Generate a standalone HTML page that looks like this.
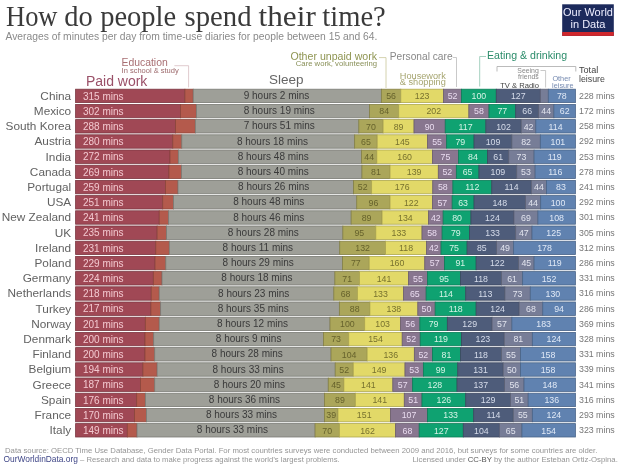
<!DOCTYPE html>
<html><head><meta charset="utf-8">
<style>
html,body{margin:0;padding:0;background:#fff;width:620px;height:466px;overflow:hidden;}
body{position:relative;font-family:"Liberation Sans",sans-serif;}
svg{position:absolute;left:0;top:0;will-change:transform;}
.c{font-size:11.8px;fill:#626262;}
.p{font-size:10px;fill:#f3c9d0;}
.s{font-size:10px;fill:#3a3a3a;}
.t{font-size:8.8px;fill:#777;}
.n{font-size:8.8px;}
</style></head><body>
<svg width="620" height="466" viewBox="0 0 620 466" font-family="Liberation Sans, sans-serif">
<g font-family="Liberation Serif, serif" font-size="29" fill="#3a3a3a"><text x="6.0" y="25.5" textLength="51.5" lengthAdjust="spacingAndGlyphs">How</text><text x="64.3" y="25.5" textLength="28.5" lengthAdjust="spacingAndGlyphs">do</text><text x="100.2" y="25.5" textLength="76" lengthAdjust="spacingAndGlyphs">people</text><text x="184.5" y="25.5" textLength="67" lengthAdjust="spacingAndGlyphs">spend</text><text x="258.6" y="25.5" textLength="57.2" lengthAdjust="spacingAndGlyphs">their</text><text x="322.3" y="25.5" textLength="63.5" lengthAdjust="spacingAndGlyphs">time?</text></g>
<text x="5.5" y="40" font-size="10.3" fill="#8a8a8a">Averages of minutes per day from time-use diaries for people between 15 and 64.</text>
<rect x="562.2" y="4.3" width="51.6" height="31.6" fill="#1c2a5c"/>
<rect x="562.2" y="32" width="51.6" height="3.9" fill="#d0272c"/>
<text x="588" y="15.8" font-size="11" fill="#eef" text-anchor="middle">Our World</text>
<text x="588" y="27.7" font-size="11" fill="#eef" text-anchor="middle">in Data</text>

<!-- headers -->
<text x="121.5" y="65.5" font-size="10.4" fill="#a86e72">Education</text>
<text x="121.6" y="72.8" font-size="7.5" fill="#9c686b">In school &amp; study</text>
<polyline points="174.4,65.7 188.6,65.7 188.6,87.4" fill="none" stroke="#d2b4ba" stroke-width="0.7"/>
<text x="85.9" y="85.8" font-size="14" fill="#9a5068">Paid work</text>
<text x="269" y="84.3" font-size="13.5" fill="#666">Sleep</text>
<text x="377" y="59.9" font-size="10.6" fill="#8f9552" text-anchor="end">Other unpaid work</text>
<text x="377" y="66.3" font-size="7.7" fill="#899058" text-anchor="end">Care work, volunteering</text>
<polyline points="379,57.6 386,57.6 386,88" fill="none" stroke="#c9c79a" stroke-width="0.8"/>
<text x="389.7" y="59.5" font-size="10.2" fill="#888">Personal care</text>
<polyline points="452.8,57.5 456.5,57.5 456.5,87" fill="none" stroke="#bbb" stroke-width="0.8"/>
<text x="399.8" y="78.7" font-size="9.2" fill="#a6a570">Housework</text>
<text x="399.8" y="85.3" font-size="9.2" fill="#a6a570">&amp; shopping</text>
<text x="487" y="58.9" font-size="10.6" fill="#2b8c6a">Eating &amp; drinking</text>
<polyline points="486,56.5 479.7,56.5 479.7,86.5" fill="none" stroke="#8cc4ae" stroke-width="0.8"/>
<polyline points="497,71.5 497,66.5 575.8,66.5 575.8,71.5" fill="none" stroke="#aaa" stroke-width="0.8"/>
<text x="538.8" y="72.6" font-size="6.9" fill="#888" text-anchor="end">Seeing</text>
<text x="538.8" y="78.9" font-size="6.9" fill="#888" text-anchor="end">friends</text>
<polyline points="540.5,70.5 545.6,70.5 545.6,87.5" fill="none" stroke="#bbb" stroke-width="0.8"/>
<text x="500.2" y="87.6" font-size="7.6" fill="#444">TV &amp; Radio</text>
<text x="552.4" y="80.5" font-size="7.3" fill="#7489b0">Other</text>
<text x="552.1" y="87.7" font-size="7.3" fill="#7489b0">leisure</text>
<text x="579" y="72.9" font-size="9.1" fill="#444">Total</text>
<text x="579" y="81.6" font-size="8.8" fill="#444">leisure</text>
<!-- footer -->
<text x="5.0" y="452.8" font-size="7.74" fill="#959595">Data source: OECD Time Use Database, Gender Data Portal. For most countries surveys were conducted between 2009 and 2016, but surveys for some countries are older.</text>
<text x="3.6" y="461.8" font-size="7.7" fill="#959595"><tspan fill="#3f4687" font-size="8.4">OurWorldinData.org</tspan> – Research and data to make progress against the world’s largest problems.</text>
<text x="617.8" y="461.8" font-size="7.78" fill="#959595" text-anchor="end">Licensed under <tspan fill="#555">CC-BY</tspan> by the author Esteban Ortiz-Ospina.</text>
<rect x="75.60" y="89.20" width="109.33" height="13.4" fill="#a04855" stroke="#7c3842" stroke-width="0.8"/>
<rect x="184.93" y="89.20" width="8.33" height="13.4" fill="#b45a4c" stroke="#8c463b" stroke-width="0.8"/>
<rect x="193.26" y="89.20" width="188.12" height="13.4" fill="#9e9f98" stroke="#7b7c76" stroke-width="0.8"/>
<rect x="381.38" y="89.20" width="19.44" height="13.4" fill="#aba65a" stroke="#858146" stroke-width="0.8"/>
<text x="391.10" y="99.10" class="n" fill="#66622c" text-anchor="middle">56</text>
<rect x="400.82" y="89.20" width="42.69" height="13.4" fill="#e2d968" stroke="#b0a951" stroke-width="0.8"/>
<text x="422.16" y="99.10" class="n" fill="#77712e" text-anchor="middle">123</text>
<rect x="443.51" y="89.20" width="18.05" height="13.4" fill="#88768f" stroke="#6a5c6f" stroke-width="0.8"/>
<text x="452.53" y="99.10" class="n" fill="#eadcf0" text-anchor="middle">52</text>
<rect x="461.56" y="89.20" width="34.71" height="13.4" fill="#0fa271" stroke="#0b7e58" stroke-width="0.8"/>
<text x="478.91" y="99.10" class="n" fill="#d5f3e6" text-anchor="middle">100</text>
<rect x="496.27" y="89.20" width="44.08" height="13.4" fill="#4e5c7a" stroke="#3c475f" stroke-width="0.8"/>
<text x="518.30" y="99.10" class="n" fill="#d6dcea" text-anchor="middle">127</text>
<rect x="540.34" y="89.20" width="7.98" height="13.4" fill="#777d97" stroke="#5c6175" stroke-width="0.8"/>
<rect x="548.33" y="89.20" width="27.07" height="13.4" fill="#6082b0" stroke="#4a6589" stroke-width="0.8"/>
<text x="561.86" y="99.10" class="n" fill="#e0e9f6" text-anchor="middle">78</text>
<text x="71.2" y="99.70" class="c" text-anchor="end">China</text>
<text x="83" y="99.60" class="p">315 mins</text>
<text x="243.7" y="98.90" class="s">9 hours 2 mins</text>
<text x="579" y="98.70" class="t">228 mins</text>
<rect x="75.60" y="104.40" width="104.82" height="13.4" fill="#a04855" stroke="#7c3842" stroke-width="0.8"/>
<rect x="180.42" y="104.40" width="15.97" height="13.4" fill="#b45a4c" stroke="#8c463b" stroke-width="0.8"/>
<rect x="196.39" y="104.40" width="173.19" height="13.4" fill="#9e9f98" stroke="#7b7c76" stroke-width="0.8"/>
<rect x="369.58" y="104.40" width="29.16" height="13.4" fill="#aba65a" stroke="#858146" stroke-width="0.8"/>
<text x="384.16" y="114.30" class="n" fill="#66622c" text-anchor="middle">84</text>
<rect x="398.73" y="104.40" width="70.11" height="13.4" fill="#e2d968" stroke="#b0a951" stroke-width="0.8"/>
<text x="433.79" y="114.30" class="n" fill="#77712e" text-anchor="middle">202</text>
<rect x="468.85" y="104.40" width="20.13" height="13.4" fill="#88768f" stroke="#6a5c6f" stroke-width="0.8"/>
<text x="478.91" y="114.30" class="n" fill="#eadcf0" text-anchor="middle">58</text>
<rect x="488.98" y="104.40" width="26.73" height="13.4" fill="#0fa271" stroke="#0b7e58" stroke-width="0.8"/>
<text x="502.34" y="114.30" class="n" fill="#d5f3e6" text-anchor="middle">77</text>
<rect x="515.70" y="104.40" width="22.91" height="13.4" fill="#4e5c7a" stroke="#3c475f" stroke-width="0.8"/>
<text x="527.16" y="114.30" class="n" fill="#d6dcea" text-anchor="middle">66</text>
<rect x="538.61" y="104.40" width="15.27" height="13.4" fill="#777d97" stroke="#5c6175" stroke-width="0.8"/>
<text x="546.25" y="114.30" class="n" fill="#e2e4ee" text-anchor="middle">44</text>
<rect x="553.88" y="104.40" width="21.52" height="13.4" fill="#6082b0" stroke="#4a6589" stroke-width="0.8"/>
<text x="564.64" y="114.30" class="n" fill="#e0e9f6" text-anchor="middle">62</text>
<text x="71.2" y="114.90" class="c" text-anchor="end">Mexico</text>
<text x="83" y="114.80" class="p">302 mins</text>
<text x="243.7" y="114.10" class="s">8 hours 19 mins</text>
<text x="579" y="113.90" class="t">172 mins</text>
<rect x="75.60" y="119.60" width="99.96" height="13.4" fill="#a04855" stroke="#7c3842" stroke-width="0.8"/>
<rect x="175.56" y="119.60" width="19.78" height="13.4" fill="#b45a4c" stroke="#8c463b" stroke-width="0.8"/>
<rect x="195.34" y="119.60" width="163.48" height="13.4" fill="#9e9f98" stroke="#7b7c76" stroke-width="0.8"/>
<rect x="358.82" y="119.60" width="24.30" height="13.4" fill="#aba65a" stroke="#858146" stroke-width="0.8"/>
<text x="370.97" y="129.50" class="n" fill="#66622c" text-anchor="middle">70</text>
<rect x="383.12" y="119.60" width="30.89" height="13.4" fill="#e2d968" stroke="#b0a951" stroke-width="0.8"/>
<text x="398.56" y="129.50" class="n" fill="#77712e" text-anchor="middle">89</text>
<rect x="414.01" y="119.60" width="31.24" height="13.4" fill="#88768f" stroke="#6a5c6f" stroke-width="0.8"/>
<text x="429.63" y="129.50" class="n" fill="#eadcf0" text-anchor="middle">90</text>
<rect x="445.24" y="119.60" width="40.61" height="13.4" fill="#0fa271" stroke="#0b7e58" stroke-width="0.8"/>
<text x="465.55" y="129.50" class="n" fill="#d5f3e6" text-anchor="middle">117</text>
<rect x="485.85" y="119.60" width="35.40" height="13.4" fill="#4e5c7a" stroke="#3c475f" stroke-width="0.8"/>
<text x="503.55" y="129.50" class="n" fill="#d6dcea" text-anchor="middle">102</text>
<rect x="521.26" y="119.60" width="14.58" height="13.4" fill="#777d97" stroke="#5c6175" stroke-width="0.8"/>
<text x="528.54" y="129.50" class="n" fill="#e2e4ee" text-anchor="middle">42</text>
<rect x="535.83" y="119.60" width="39.57" height="13.4" fill="#6082b0" stroke="#4a6589" stroke-width="0.8"/>
<text x="555.62" y="129.50" class="n" fill="#e0e9f6" text-anchor="middle">114</text>
<text x="71.2" y="130.10" class="c" text-anchor="end">South Korea</text>
<text x="83" y="130.00" class="p">288 mins</text>
<text x="243.7" y="129.30" class="s">7 hours 51 mins</text>
<text x="579" y="129.10" class="t">258 mins</text>
<rect x="75.60" y="134.80" width="97.18" height="13.4" fill="#a04855" stroke="#7c3842" stroke-width="0.8"/>
<rect x="172.78" y="134.80" width="9.02" height="13.4" fill="#b45a4c" stroke="#8c463b" stroke-width="0.8"/>
<rect x="181.81" y="134.80" width="172.85" height="13.4" fill="#9e9f98" stroke="#7b7c76" stroke-width="0.8"/>
<rect x="354.65" y="134.80" width="22.56" height="13.4" fill="#aba65a" stroke="#858146" stroke-width="0.8"/>
<text x="365.94" y="144.70" class="n" fill="#66622c" text-anchor="middle">65</text>
<rect x="377.22" y="134.80" width="50.33" height="13.4" fill="#e2d968" stroke="#b0a951" stroke-width="0.8"/>
<text x="402.38" y="144.70" class="n" fill="#77712e" text-anchor="middle">145</text>
<rect x="427.54" y="134.80" width="19.09" height="13.4" fill="#88768f" stroke="#6a5c6f" stroke-width="0.8"/>
<text x="437.09" y="144.70" class="n" fill="#eadcf0" text-anchor="middle">55</text>
<rect x="446.63" y="134.80" width="27.42" height="13.4" fill="#0fa271" stroke="#0b7e58" stroke-width="0.8"/>
<text x="460.34" y="144.70" class="n" fill="#d5f3e6" text-anchor="middle">79</text>
<rect x="474.05" y="134.80" width="37.83" height="13.4" fill="#4e5c7a" stroke="#3c475f" stroke-width="0.8"/>
<text x="492.97" y="144.70" class="n" fill="#d6dcea" text-anchor="middle">109</text>
<rect x="511.88" y="134.80" width="28.46" height="13.4" fill="#777d97" stroke="#5c6175" stroke-width="0.8"/>
<text x="526.11" y="144.70" class="n" fill="#e2e4ee" text-anchor="middle">82</text>
<rect x="540.34" y="134.80" width="35.06" height="13.4" fill="#6082b0" stroke="#4a6589" stroke-width="0.8"/>
<text x="557.87" y="144.70" class="n" fill="#e0e9f6" text-anchor="middle">101</text>
<text x="71.2" y="145.30" class="c" text-anchor="end">Austria</text>
<text x="83" y="145.20" class="p">280 mins</text>
<text x="236.9" y="144.50" class="s">8 hours 18 mins</text>
<text x="579" y="144.30" class="t">292 mins</text>
<rect x="75.60" y="150.00" width="94.41" height="13.4" fill="#a04855" stroke="#7c3842" stroke-width="0.8"/>
<rect x="170.01" y="150.00" width="8.33" height="13.4" fill="#b45a4c" stroke="#8c463b" stroke-width="0.8"/>
<rect x="178.34" y="150.00" width="183.26" height="13.4" fill="#9e9f98" stroke="#7b7c76" stroke-width="0.8"/>
<rect x="361.60" y="150.00" width="15.27" height="13.4" fill="#aba65a" stroke="#858146" stroke-width="0.8"/>
<text x="369.23" y="159.90" class="n" fill="#66622c" text-anchor="middle">44</text>
<rect x="376.87" y="150.00" width="55.53" height="13.4" fill="#e2d968" stroke="#b0a951" stroke-width="0.8"/>
<text x="404.63" y="159.90" class="n" fill="#77712e" text-anchor="middle">160</text>
<rect x="432.40" y="150.00" width="26.03" height="13.4" fill="#88768f" stroke="#6a5c6f" stroke-width="0.8"/>
<text x="445.42" y="159.90" class="n" fill="#eadcf0" text-anchor="middle">75</text>
<rect x="458.43" y="150.00" width="29.16" height="13.4" fill="#0fa271" stroke="#0b7e58" stroke-width="0.8"/>
<text x="473.01" y="159.90" class="n" fill="#d5f3e6" text-anchor="middle">84</text>
<rect x="487.59" y="150.00" width="21.17" height="13.4" fill="#4e5c7a" stroke="#3c475f" stroke-width="0.8"/>
<text x="498.17" y="159.90" class="n" fill="#d6dcea" text-anchor="middle">61</text>
<rect x="508.76" y="150.00" width="25.34" height="13.4" fill="#777d97" stroke="#5c6175" stroke-width="0.8"/>
<text x="521.43" y="159.90" class="n" fill="#e2e4ee" text-anchor="middle">73</text>
<rect x="534.10" y="150.00" width="41.30" height="13.4" fill="#6082b0" stroke="#4a6589" stroke-width="0.8"/>
<text x="554.75" y="159.90" class="n" fill="#e0e9f6" text-anchor="middle">119</text>
<text x="71.2" y="160.50" class="c" text-anchor="end">India</text>
<text x="83" y="160.40" class="p">272 mins</text>
<text x="237.7" y="159.70" class="s">8 hours 48 mins</text>
<text x="579" y="159.50" class="t">253 mins</text>
<rect x="75.60" y="165.20" width="93.37" height="13.4" fill="#a04855" stroke="#7c3842" stroke-width="0.8"/>
<rect x="168.97" y="165.20" width="12.50" height="13.4" fill="#b45a4c" stroke="#8c463b" stroke-width="0.8"/>
<rect x="181.46" y="165.20" width="180.48" height="13.4" fill="#9e9f98" stroke="#7b7c76" stroke-width="0.8"/>
<rect x="361.94" y="165.20" width="28.11" height="13.4" fill="#aba65a" stroke="#858146" stroke-width="0.8"/>
<text x="376.00" y="175.10" class="n" fill="#66622c" text-anchor="middle">81</text>
<rect x="390.06" y="165.20" width="48.24" height="13.4" fill="#e2d968" stroke="#b0a951" stroke-width="0.8"/>
<text x="414.18" y="175.10" class="n" fill="#77712e" text-anchor="middle">139</text>
<rect x="438.30" y="165.20" width="18.05" height="13.4" fill="#88768f" stroke="#6a5c6f" stroke-width="0.8"/>
<text x="447.33" y="175.10" class="n" fill="#eadcf0" text-anchor="middle">52</text>
<rect x="456.35" y="165.20" width="22.56" height="13.4" fill="#0fa271" stroke="#0b7e58" stroke-width="0.8"/>
<text x="467.63" y="175.10" class="n" fill="#d5f3e6" text-anchor="middle">65</text>
<rect x="478.91" y="165.20" width="37.83" height="13.4" fill="#4e5c7a" stroke="#3c475f" stroke-width="0.8"/>
<text x="497.83" y="175.10" class="n" fill="#d6dcea" text-anchor="middle">109</text>
<rect x="516.74" y="165.20" width="18.40" height="13.4" fill="#777d97" stroke="#5c6175" stroke-width="0.8"/>
<text x="525.94" y="175.10" class="n" fill="#e2e4ee" text-anchor="middle">53</text>
<rect x="535.14" y="165.20" width="40.26" height="13.4" fill="#6082b0" stroke="#4a6589" stroke-width="0.8"/>
<text x="555.27" y="175.10" class="n" fill="#e0e9f6" text-anchor="middle">116</text>
<text x="71.2" y="175.70" class="c" text-anchor="end">Canada</text>
<text x="83" y="175.60" class="p">269 mins</text>
<text x="237.7" y="174.90" class="s">8 hours 40 mins</text>
<text x="579" y="174.70" class="t">278 mins</text>
<rect x="75.60" y="180.40" width="89.89" height="13.4" fill="#a04855" stroke="#7c3842" stroke-width="0.8"/>
<rect x="165.49" y="180.40" width="12.50" height="13.4" fill="#b45a4c" stroke="#8c463b" stroke-width="0.8"/>
<rect x="177.99" y="180.40" width="175.62" height="13.4" fill="#9e9f98" stroke="#7b7c76" stroke-width="0.8"/>
<rect x="353.61" y="180.40" width="18.05" height="13.4" fill="#aba65a" stroke="#858146" stroke-width="0.8"/>
<text x="362.64" y="190.30" class="n" fill="#66622c" text-anchor="middle">52</text>
<rect x="371.66" y="180.40" width="61.09" height="13.4" fill="#e2d968" stroke="#b0a951" stroke-width="0.8"/>
<text x="402.21" y="190.30" class="n" fill="#77712e" text-anchor="middle">176</text>
<rect x="432.75" y="180.40" width="20.13" height="13.4" fill="#88768f" stroke="#6a5c6f" stroke-width="0.8"/>
<text x="442.81" y="190.30" class="n" fill="#eadcf0" text-anchor="middle">58</text>
<rect x="452.88" y="180.40" width="38.87" height="13.4" fill="#0fa271" stroke="#0b7e58" stroke-width="0.8"/>
<text x="472.32" y="190.30" class="n" fill="#d5f3e6" text-anchor="middle">112</text>
<rect x="491.75" y="180.40" width="39.57" height="13.4" fill="#4e5c7a" stroke="#3c475f" stroke-width="0.8"/>
<text x="511.54" y="190.30" class="n" fill="#d6dcea" text-anchor="middle">114</text>
<rect x="531.32" y="180.40" width="15.27" height="13.4" fill="#777d97" stroke="#5c6175" stroke-width="0.8"/>
<text x="538.96" y="190.30" class="n" fill="#e2e4ee" text-anchor="middle">44</text>
<rect x="546.59" y="180.40" width="28.81" height="13.4" fill="#6082b0" stroke="#4a6589" stroke-width="0.8"/>
<text x="561.00" y="190.30" class="n" fill="#e0e9f6" text-anchor="middle">83</text>
<text x="71.2" y="190.90" class="c" text-anchor="end">Portugal</text>
<text x="83" y="190.80" class="p">259 mins</text>
<text x="238.1" y="190.10" class="s">8 hours 26 mins</text>
<text x="579" y="189.90" class="t">241 mins</text>
<rect x="75.60" y="195.60" width="87.12" height="13.4" fill="#a04855" stroke="#7c3842" stroke-width="0.8"/>
<rect x="162.72" y="195.60" width="10.76" height="13.4" fill="#b45a4c" stroke="#8c463b" stroke-width="0.8"/>
<rect x="173.48" y="195.60" width="183.26" height="13.4" fill="#9e9f98" stroke="#7b7c76" stroke-width="0.8"/>
<rect x="356.74" y="195.60" width="33.32" height="13.4" fill="#aba65a" stroke="#858146" stroke-width="0.8"/>
<text x="373.40" y="205.50" class="n" fill="#66622c" text-anchor="middle">96</text>
<rect x="390.06" y="195.60" width="42.34" height="13.4" fill="#e2d968" stroke="#b0a951" stroke-width="0.8"/>
<text x="411.23" y="205.50" class="n" fill="#77712e" text-anchor="middle">122</text>
<rect x="432.40" y="195.60" width="19.78" height="13.4" fill="#88768f" stroke="#6a5c6f" stroke-width="0.8"/>
<text x="442.29" y="205.50" class="n" fill="#eadcf0" text-anchor="middle">57</text>
<rect x="452.19" y="195.60" width="21.87" height="13.4" fill="#0fa271" stroke="#0b7e58" stroke-width="0.8"/>
<text x="463.12" y="205.50" class="n" fill="#d5f3e6" text-anchor="middle">63</text>
<rect x="474.05" y="195.60" width="51.37" height="13.4" fill="#4e5c7a" stroke="#3c475f" stroke-width="0.8"/>
<text x="499.74" y="205.50" class="n" fill="#d6dcea" text-anchor="middle">148</text>
<rect x="525.42" y="195.60" width="15.27" height="13.4" fill="#777d97" stroke="#5c6175" stroke-width="0.8"/>
<text x="533.06" y="205.50" class="n" fill="#e2e4ee" text-anchor="middle">44</text>
<rect x="540.69" y="195.60" width="34.71" height="13.4" fill="#6082b0" stroke="#4a6589" stroke-width="0.8"/>
<text x="558.05" y="205.50" class="n" fill="#e0e9f6" text-anchor="middle">100</text>
<text x="71.2" y="206.10" class="c" text-anchor="end">USA</text>
<text x="83" y="206.00" class="p">251 mins</text>
<text x="233.2" y="205.30" class="s">8 hours 48 mins</text>
<text x="579" y="205.10" class="t">292 mins</text>
<rect x="75.60" y="210.80" width="83.65" height="13.4" fill="#a04855" stroke="#7c3842" stroke-width="0.8"/>
<rect x="159.25" y="210.80" width="9.37" height="13.4" fill="#b45a4c" stroke="#8c463b" stroke-width="0.8"/>
<rect x="168.62" y="210.80" width="182.57" height="13.4" fill="#9e9f98" stroke="#7b7c76" stroke-width="0.8"/>
<rect x="351.18" y="210.80" width="30.89" height="13.4" fill="#aba65a" stroke="#858146" stroke-width="0.8"/>
<text x="366.63" y="220.70" class="n" fill="#66622c" text-anchor="middle">89</text>
<rect x="382.07" y="210.80" width="46.51" height="13.4" fill="#e2d968" stroke="#b0a951" stroke-width="0.8"/>
<text x="405.33" y="220.70" class="n" fill="#77712e" text-anchor="middle">134</text>
<rect x="428.58" y="210.80" width="14.58" height="13.4" fill="#88768f" stroke="#6a5c6f" stroke-width="0.8"/>
<text x="435.87" y="220.70" class="n" fill="#eadcf0" text-anchor="middle">42</text>
<rect x="443.16" y="210.80" width="27.77" height="13.4" fill="#0fa271" stroke="#0b7e58" stroke-width="0.8"/>
<text x="457.04" y="220.70" class="n" fill="#d5f3e6" text-anchor="middle">80</text>
<rect x="470.93" y="210.80" width="43.04" height="13.4" fill="#4e5c7a" stroke="#3c475f" stroke-width="0.8"/>
<text x="492.45" y="220.70" class="n" fill="#d6dcea" text-anchor="middle">124</text>
<rect x="513.97" y="210.80" width="23.95" height="13.4" fill="#777d97" stroke="#5c6175" stroke-width="0.8"/>
<text x="525.94" y="220.70" class="n" fill="#e2e4ee" text-anchor="middle">69</text>
<rect x="537.91" y="210.80" width="37.48" height="13.4" fill="#6082b0" stroke="#4a6589" stroke-width="0.8"/>
<text x="556.66" y="220.70" class="n" fill="#e0e9f6" text-anchor="middle">108</text>
<text x="71.2" y="221.30" class="c" text-anchor="end">New Zealand</text>
<text x="83" y="221.20" class="p">241 mins</text>
<text x="233.2" y="220.50" class="s">8 hours 46 mins</text>
<text x="579" y="220.30" class="t">301 mins</text>
<rect x="75.60" y="226.00" width="81.56" height="13.4" fill="#a04855" stroke="#7c3842" stroke-width="0.8"/>
<rect x="157.16" y="226.00" width="9.37" height="13.4" fill="#b45a4c" stroke="#8c463b" stroke-width="0.8"/>
<rect x="166.54" y="226.00" width="176.32" height="13.4" fill="#9e9f98" stroke="#7b7c76" stroke-width="0.8"/>
<rect x="342.85" y="226.00" width="32.97" height="13.4" fill="#aba65a" stroke="#858146" stroke-width="0.8"/>
<text x="359.34" y="235.90" class="n" fill="#66622c" text-anchor="middle">95</text>
<rect x="375.83" y="226.00" width="46.16" height="13.4" fill="#e2d968" stroke="#b0a951" stroke-width="0.8"/>
<text x="398.91" y="235.90" class="n" fill="#77712e" text-anchor="middle">133</text>
<rect x="421.99" y="226.00" width="20.13" height="13.4" fill="#88768f" stroke="#6a5c6f" stroke-width="0.8"/>
<text x="432.05" y="235.90" class="n" fill="#eadcf0" text-anchor="middle">58</text>
<rect x="442.12" y="226.00" width="27.42" height="13.4" fill="#0fa271" stroke="#0b7e58" stroke-width="0.8"/>
<text x="455.83" y="235.90" class="n" fill="#d5f3e6" text-anchor="middle">79</text>
<rect x="469.54" y="226.00" width="46.16" height="13.4" fill="#4e5c7a" stroke="#3c475f" stroke-width="0.8"/>
<text x="492.62" y="235.90" class="n" fill="#d6dcea" text-anchor="middle">133</text>
<rect x="515.70" y="226.00" width="16.31" height="13.4" fill="#777d97" stroke="#5c6175" stroke-width="0.8"/>
<text x="523.86" y="235.90" class="n" fill="#e2e4ee" text-anchor="middle">47</text>
<rect x="532.01" y="226.00" width="43.39" height="13.4" fill="#6082b0" stroke="#4a6589" stroke-width="0.8"/>
<text x="553.71" y="235.90" class="n" fill="#e0e9f6" text-anchor="middle">125</text>
<text x="71.2" y="236.50" class="c" text-anchor="end">UK</text>
<text x="83" y="236.40" class="p">235 mins</text>
<text x="227.7" y="235.70" class="s">8 hours 28 mins</text>
<text x="579" y="235.50" class="t">305 mins</text>
<rect x="75.60" y="241.20" width="80.18" height="13.4" fill="#a04855" stroke="#7c3842" stroke-width="0.8"/>
<rect x="155.78" y="241.20" width="13.54" height="13.4" fill="#b45a4c" stroke="#8c463b" stroke-width="0.8"/>
<rect x="169.31" y="241.20" width="170.42" height="13.4" fill="#9e9f98" stroke="#7b7c76" stroke-width="0.8"/>
<rect x="339.73" y="241.20" width="45.82" height="13.4" fill="#aba65a" stroke="#858146" stroke-width="0.8"/>
<text x="362.64" y="251.10" class="n" fill="#66622c" text-anchor="middle">132</text>
<rect x="385.55" y="241.20" width="40.96" height="13.4" fill="#e2d968" stroke="#b0a951" stroke-width="0.8"/>
<text x="406.02" y="251.10" class="n" fill="#77712e" text-anchor="middle">118</text>
<rect x="426.50" y="241.20" width="14.58" height="13.4" fill="#88768f" stroke="#6a5c6f" stroke-width="0.8"/>
<text x="433.79" y="251.10" class="n" fill="#eadcf0" text-anchor="middle">42</text>
<rect x="441.08" y="241.20" width="26.03" height="13.4" fill="#0fa271" stroke="#0b7e58" stroke-width="0.8"/>
<text x="454.09" y="251.10" class="n" fill="#d5f3e6" text-anchor="middle">75</text>
<rect x="467.11" y="241.20" width="29.50" height="13.4" fill="#4e5c7a" stroke="#3c475f" stroke-width="0.8"/>
<text x="481.86" y="251.10" class="n" fill="#d6dcea" text-anchor="middle">85</text>
<rect x="496.61" y="241.20" width="17.01" height="13.4" fill="#777d97" stroke="#5c6175" stroke-width="0.8"/>
<text x="505.12" y="251.10" class="n" fill="#e2e4ee" text-anchor="middle">49</text>
<rect x="513.62" y="241.20" width="61.78" height="13.4" fill="#6082b0" stroke="#4a6589" stroke-width="0.8"/>
<text x="544.51" y="251.10" class="n" fill="#e0e9f6" text-anchor="middle">178</text>
<text x="71.2" y="251.70" class="c" text-anchor="end">Ireland</text>
<text x="83" y="251.60" class="p">231 mins</text>
<text x="222.6" y="250.90" class="s">8 hours 11 mins</text>
<text x="579" y="250.70" class="t">312 mins</text>
<rect x="75.60" y="256.40" width="79.48" height="13.4" fill="#a04855" stroke="#7c3842" stroke-width="0.8"/>
<rect x="155.08" y="256.40" width="10.76" height="13.4" fill="#b45a4c" stroke="#8c463b" stroke-width="0.8"/>
<rect x="165.84" y="256.40" width="176.67" height="13.4" fill="#9e9f98" stroke="#7b7c76" stroke-width="0.8"/>
<rect x="342.51" y="256.40" width="26.73" height="13.4" fill="#aba65a" stroke="#858146" stroke-width="0.8"/>
<text x="355.87" y="266.30" class="n" fill="#66622c" text-anchor="middle">77</text>
<rect x="369.23" y="256.40" width="55.53" height="13.4" fill="#e2d968" stroke="#b0a951" stroke-width="0.8"/>
<text x="397.00" y="266.30" class="n" fill="#77712e" text-anchor="middle">160</text>
<rect x="424.77" y="256.40" width="19.78" height="13.4" fill="#88768f" stroke="#6a5c6f" stroke-width="0.8"/>
<text x="434.66" y="266.30" class="n" fill="#eadcf0" text-anchor="middle">57</text>
<rect x="444.55" y="256.40" width="31.58" height="13.4" fill="#0fa271" stroke="#0b7e58" stroke-width="0.8"/>
<text x="460.34" y="266.30" class="n" fill="#d5f3e6" text-anchor="middle">91</text>
<rect x="476.13" y="256.40" width="42.34" height="13.4" fill="#4e5c7a" stroke="#3c475f" stroke-width="0.8"/>
<text x="497.31" y="266.30" class="n" fill="#d6dcea" text-anchor="middle">122</text>
<rect x="518.48" y="256.40" width="15.62" height="13.4" fill="#777d97" stroke="#5c6175" stroke-width="0.8"/>
<text x="526.29" y="266.30" class="n" fill="#e2e4ee" text-anchor="middle">45</text>
<rect x="534.10" y="256.40" width="41.30" height="13.4" fill="#6082b0" stroke="#4a6589" stroke-width="0.8"/>
<text x="554.75" y="266.30" class="n" fill="#e0e9f6" text-anchor="middle">119</text>
<text x="71.2" y="266.90" class="c" text-anchor="end">Poland</text>
<text x="83" y="266.80" class="p">229 mins</text>
<text x="222.6" y="266.10" class="s">8 hours 29 mins</text>
<text x="579" y="265.90" class="t">286 mins</text>
<rect x="75.60" y="271.60" width="77.75" height="13.4" fill="#a04855" stroke="#7c3842" stroke-width="0.8"/>
<rect x="153.35" y="271.60" width="8.68" height="13.4" fill="#b45a4c" stroke="#8c463b" stroke-width="0.8"/>
<rect x="162.02" y="271.60" width="172.85" height="13.4" fill="#9e9f98" stroke="#7b7c76" stroke-width="0.8"/>
<rect x="334.87" y="271.60" width="24.64" height="13.4" fill="#aba65a" stroke="#858146" stroke-width="0.8"/>
<text x="347.19" y="281.50" class="n" fill="#66622c" text-anchor="middle">71</text>
<rect x="359.51" y="271.60" width="48.94" height="13.4" fill="#e2d968" stroke="#b0a951" stroke-width="0.8"/>
<text x="383.98" y="281.50" class="n" fill="#77712e" text-anchor="middle">141</text>
<rect x="408.45" y="271.60" width="19.09" height="13.4" fill="#88768f" stroke="#6a5c6f" stroke-width="0.8"/>
<text x="418.00" y="281.50" class="n" fill="#eadcf0" text-anchor="middle">55</text>
<rect x="427.54" y="271.60" width="32.97" height="13.4" fill="#0fa271" stroke="#0b7e58" stroke-width="0.8"/>
<text x="444.03" y="281.50" class="n" fill="#d5f3e6" text-anchor="middle">95</text>
<rect x="460.52" y="271.60" width="40.96" height="13.4" fill="#4e5c7a" stroke="#3c475f" stroke-width="0.8"/>
<text x="480.99" y="281.50" class="n" fill="#d6dcea" text-anchor="middle">118</text>
<rect x="501.47" y="271.60" width="21.17" height="13.4" fill="#777d97" stroke="#5c6175" stroke-width="0.8"/>
<text x="512.06" y="281.50" class="n" fill="#e2e4ee" text-anchor="middle">61</text>
<rect x="522.64" y="271.60" width="52.76" height="13.4" fill="#6082b0" stroke="#4a6589" stroke-width="0.8"/>
<text x="549.02" y="281.50" class="n" fill="#e0e9f6" text-anchor="middle">152</text>
<text x="71.2" y="282.10" class="c" text-anchor="end">Germany</text>
<text x="83" y="282.00" class="p">224 mins</text>
<text x="221.3" y="281.30" class="s">8 hours 18 mins</text>
<text x="579" y="281.10" class="t">331 mins</text>
<rect x="75.60" y="286.80" width="75.66" height="13.4" fill="#a04855" stroke="#7c3842" stroke-width="0.8"/>
<rect x="151.26" y="286.80" width="7.98" height="13.4" fill="#b45a4c" stroke="#8c463b" stroke-width="0.8"/>
<rect x="159.25" y="286.80" width="174.58" height="13.4" fill="#9e9f98" stroke="#7b7c76" stroke-width="0.8"/>
<rect x="333.83" y="286.80" width="23.60" height="13.4" fill="#aba65a" stroke="#858146" stroke-width="0.8"/>
<text x="345.63" y="296.70" class="n" fill="#66622c" text-anchor="middle">68</text>
<rect x="357.43" y="286.80" width="46.16" height="13.4" fill="#e2d968" stroke="#b0a951" stroke-width="0.8"/>
<text x="380.51" y="296.70" class="n" fill="#77712e" text-anchor="middle">133</text>
<rect x="403.59" y="286.80" width="22.56" height="13.4" fill="#88768f" stroke="#6a5c6f" stroke-width="0.8"/>
<text x="414.87" y="296.70" class="n" fill="#eadcf0" text-anchor="middle">65</text>
<rect x="426.15" y="286.80" width="39.57" height="13.4" fill="#0fa271" stroke="#0b7e58" stroke-width="0.8"/>
<text x="445.94" y="296.70" class="n" fill="#d5f3e6" text-anchor="middle">114</text>
<rect x="465.72" y="286.80" width="39.22" height="13.4" fill="#4e5c7a" stroke="#3c475f" stroke-width="0.8"/>
<text x="485.33" y="296.70" class="n" fill="#d6dcea" text-anchor="middle">113</text>
<rect x="504.94" y="286.80" width="25.34" height="13.4" fill="#777d97" stroke="#5c6175" stroke-width="0.8"/>
<text x="517.61" y="296.70" class="n" fill="#e2e4ee" text-anchor="middle">73</text>
<rect x="530.28" y="286.80" width="45.12" height="13.4" fill="#6082b0" stroke="#4a6589" stroke-width="0.8"/>
<text x="552.84" y="296.70" class="n" fill="#e0e9f6" text-anchor="middle">130</text>
<text x="71.2" y="297.30" class="c" text-anchor="end">Netherlands</text>
<text x="83" y="297.20" class="p">218 mins</text>
<text x="218.1" y="296.50" class="s">8 hours 23 mins</text>
<text x="579" y="296.30" class="t">316 mins</text>
<rect x="75.60" y="302.00" width="75.32" height="13.4" fill="#a04855" stroke="#7c3842" stroke-width="0.8"/>
<rect x="150.92" y="302.00" width="9.72" height="13.4" fill="#b45a4c" stroke="#8c463b" stroke-width="0.8"/>
<rect x="160.64" y="302.00" width="178.75" height="13.4" fill="#9e9f98" stroke="#7b7c76" stroke-width="0.8"/>
<rect x="339.38" y="302.00" width="30.54" height="13.4" fill="#aba65a" stroke="#858146" stroke-width="0.8"/>
<text x="354.65" y="311.90" class="n" fill="#66622c" text-anchor="middle">88</text>
<rect x="369.93" y="302.00" width="47.90" height="13.4" fill="#e2d968" stroke="#b0a951" stroke-width="0.8"/>
<text x="393.88" y="311.90" class="n" fill="#77712e" text-anchor="middle">138</text>
<rect x="417.82" y="302.00" width="17.35" height="13.4" fill="#88768f" stroke="#6a5c6f" stroke-width="0.8"/>
<text x="426.50" y="311.90" class="n" fill="#eadcf0" text-anchor="middle">50</text>
<rect x="435.18" y="302.00" width="40.96" height="13.4" fill="#0fa271" stroke="#0b7e58" stroke-width="0.8"/>
<text x="455.66" y="311.90" class="n" fill="#d5f3e6" text-anchor="middle">118</text>
<rect x="476.13" y="302.00" width="43.04" height="13.4" fill="#4e5c7a" stroke="#3c475f" stroke-width="0.8"/>
<text x="497.65" y="311.90" class="n" fill="#d6dcea" text-anchor="middle">124</text>
<rect x="519.17" y="302.00" width="23.60" height="13.4" fill="#777d97" stroke="#5c6175" stroke-width="0.8"/>
<text x="530.97" y="311.90" class="n" fill="#e2e4ee" text-anchor="middle">68</text>
<rect x="542.77" y="302.00" width="32.63" height="13.4" fill="#6082b0" stroke="#4a6589" stroke-width="0.8"/>
<text x="559.09" y="311.90" class="n" fill="#e0e9f6" text-anchor="middle">94</text>
<text x="71.2" y="312.50" class="c" text-anchor="end">Turkey</text>
<text x="83" y="312.40" class="p">217 mins</text>
<text x="217.7" y="311.70" class="s">8 hours 35 mins</text>
<text x="579" y="311.50" class="t">286 mins</text>
<rect x="75.60" y="317.20" width="69.76" height="13.4" fill="#a04855" stroke="#7c3842" stroke-width="0.8"/>
<rect x="145.36" y="317.20" width="13.88" height="13.4" fill="#b45a4c" stroke="#8c463b" stroke-width="0.8"/>
<rect x="159.25" y="317.20" width="170.77" height="13.4" fill="#9e9f98" stroke="#7b7c76" stroke-width="0.8"/>
<rect x="330.01" y="317.20" width="34.71" height="13.4" fill="#aba65a" stroke="#858146" stroke-width="0.8"/>
<text x="347.37" y="327.10" class="n" fill="#66622c" text-anchor="middle">100</text>
<rect x="364.72" y="317.20" width="35.75" height="13.4" fill="#e2d968" stroke="#b0a951" stroke-width="0.8"/>
<text x="382.60" y="327.10" class="n" fill="#77712e" text-anchor="middle">103</text>
<rect x="400.47" y="317.20" width="19.44" height="13.4" fill="#88768f" stroke="#6a5c6f" stroke-width="0.8"/>
<text x="410.19" y="327.10" class="n" fill="#eadcf0" text-anchor="middle">56</text>
<rect x="419.91" y="317.20" width="27.42" height="13.4" fill="#0fa271" stroke="#0b7e58" stroke-width="0.8"/>
<text x="433.62" y="327.10" class="n" fill="#d5f3e6" text-anchor="middle">79</text>
<rect x="447.33" y="317.20" width="44.77" height="13.4" fill="#4e5c7a" stroke="#3c475f" stroke-width="0.8"/>
<text x="469.71" y="327.10" class="n" fill="#d6dcea" text-anchor="middle">129</text>
<rect x="492.10" y="317.20" width="19.78" height="13.4" fill="#777d97" stroke="#5c6175" stroke-width="0.8"/>
<text x="501.99" y="327.10" class="n" fill="#e2e4ee" text-anchor="middle">57</text>
<rect x="511.88" y="317.20" width="63.52" height="13.4" fill="#6082b0" stroke="#4a6589" stroke-width="0.8"/>
<text x="543.64" y="327.10" class="n" fill="#e0e9f6" text-anchor="middle">183</text>
<text x="71.2" y="327.70" class="c" text-anchor="end">Norway</text>
<text x="83" y="327.60" class="p">201 mins</text>
<text x="216.9" y="326.90" class="s">8 hours 12 mins</text>
<text x="579" y="326.70" class="t">369 mins</text>
<rect x="75.60" y="332.40" width="69.42" height="13.4" fill="#a04855" stroke="#7c3842" stroke-width="0.8"/>
<rect x="145.02" y="332.40" width="8.68" height="13.4" fill="#b45a4c" stroke="#8c463b" stroke-width="0.8"/>
<rect x="153.69" y="332.40" width="169.72" height="13.4" fill="#9e9f98" stroke="#7b7c76" stroke-width="0.8"/>
<rect x="323.42" y="332.40" width="25.34" height="13.4" fill="#aba65a" stroke="#858146" stroke-width="0.8"/>
<text x="336.09" y="342.30" class="n" fill="#66622c" text-anchor="middle">73</text>
<rect x="348.75" y="332.40" width="53.45" height="13.4" fill="#e2d968" stroke="#b0a951" stroke-width="0.8"/>
<text x="375.48" y="342.30" class="n" fill="#77712e" text-anchor="middle">154</text>
<rect x="402.21" y="332.40" width="18.05" height="13.4" fill="#88768f" stroke="#6a5c6f" stroke-width="0.8"/>
<text x="411.23" y="342.30" class="n" fill="#eadcf0" text-anchor="middle">52</text>
<rect x="420.25" y="332.40" width="41.30" height="13.4" fill="#0fa271" stroke="#0b7e58" stroke-width="0.8"/>
<text x="440.91" y="342.30" class="n" fill="#d5f3e6" text-anchor="middle">119</text>
<rect x="461.56" y="332.40" width="42.69" height="13.4" fill="#4e5c7a" stroke="#3c475f" stroke-width="0.8"/>
<text x="482.90" y="342.30" class="n" fill="#d6dcea" text-anchor="middle">123</text>
<rect x="504.25" y="332.40" width="28.11" height="13.4" fill="#777d97" stroke="#5c6175" stroke-width="0.8"/>
<text x="518.30" y="342.30" class="n" fill="#e2e4ee" text-anchor="middle">81</text>
<rect x="532.36" y="332.40" width="43.04" height="13.4" fill="#6082b0" stroke="#4a6589" stroke-width="0.8"/>
<text x="553.88" y="342.30" class="n" fill="#e0e9f6" text-anchor="middle">124</text>
<text x="71.2" y="342.90" class="c" text-anchor="end">Denmark</text>
<text x="83" y="342.80" class="p">200 mins</text>
<text x="215.8" y="342.10" class="s">8 hours 9 mins</text>
<text x="579" y="341.90" class="t">328 mins</text>
<rect x="75.60" y="347.60" width="69.42" height="13.4" fill="#a04855" stroke="#7c3842" stroke-width="0.8"/>
<rect x="145.02" y="347.60" width="9.72" height="13.4" fill="#b45a4c" stroke="#8c463b" stroke-width="0.8"/>
<rect x="154.73" y="347.60" width="176.32" height="13.4" fill="#9e9f98" stroke="#7b7c76" stroke-width="0.8"/>
<rect x="331.05" y="347.60" width="36.10" height="13.4" fill="#aba65a" stroke="#858146" stroke-width="0.8"/>
<text x="349.10" y="357.50" class="n" fill="#66622c" text-anchor="middle">104</text>
<rect x="367.15" y="347.60" width="47.20" height="13.4" fill="#e2d968" stroke="#b0a951" stroke-width="0.8"/>
<text x="390.75" y="357.50" class="n" fill="#77712e" text-anchor="middle">136</text>
<rect x="414.35" y="347.60" width="18.05" height="13.4" fill="#88768f" stroke="#6a5c6f" stroke-width="0.8"/>
<text x="423.38" y="357.50" class="n" fill="#eadcf0" text-anchor="middle">52</text>
<rect x="432.40" y="347.60" width="28.11" height="13.4" fill="#0fa271" stroke="#0b7e58" stroke-width="0.8"/>
<text x="446.46" y="357.50" class="n" fill="#d5f3e6" text-anchor="middle">81</text>
<rect x="460.52" y="347.60" width="40.96" height="13.4" fill="#4e5c7a" stroke="#3c475f" stroke-width="0.8"/>
<text x="480.99" y="357.50" class="n" fill="#d6dcea" text-anchor="middle">118</text>
<rect x="501.47" y="347.60" width="19.09" height="13.4" fill="#777d97" stroke="#5c6175" stroke-width="0.8"/>
<text x="511.02" y="357.50" class="n" fill="#e2e4ee" text-anchor="middle">55</text>
<rect x="520.56" y="347.60" width="54.84" height="13.4" fill="#6082b0" stroke="#4a6589" stroke-width="0.8"/>
<text x="547.98" y="357.50" class="n" fill="#e0e9f6" text-anchor="middle">158</text>
<text x="71.2" y="358.10" class="c" text-anchor="end">Finland</text>
<text x="83" y="358.00" class="p">200 mins</text>
<text x="211.6" y="357.30" class="s">8 hours 28 mins</text>
<text x="579" y="357.10" class="t">331 mins</text>
<rect x="75.60" y="362.80" width="67.33" height="13.4" fill="#a04855" stroke="#7c3842" stroke-width="0.8"/>
<rect x="142.93" y="362.80" width="14.23" height="13.4" fill="#b45a4c" stroke="#8c463b" stroke-width="0.8"/>
<rect x="157.16" y="362.80" width="178.05" height="13.4" fill="#9e9f98" stroke="#7b7c76" stroke-width="0.8"/>
<rect x="335.22" y="362.80" width="18.05" height="13.4" fill="#aba65a" stroke="#858146" stroke-width="0.8"/>
<text x="344.24" y="372.70" class="n" fill="#66622c" text-anchor="middle">52</text>
<rect x="353.27" y="362.80" width="51.72" height="13.4" fill="#e2d968" stroke="#b0a951" stroke-width="0.8"/>
<text x="379.12" y="372.70" class="n" fill="#77712e" text-anchor="middle">149</text>
<rect x="404.98" y="362.80" width="18.40" height="13.4" fill="#88768f" stroke="#6a5c6f" stroke-width="0.8"/>
<text x="414.18" y="372.70" class="n" fill="#eadcf0" text-anchor="middle">53</text>
<rect x="423.38" y="362.80" width="34.36" height="13.4" fill="#0fa271" stroke="#0b7e58" stroke-width="0.8"/>
<text x="440.56" y="372.70" class="n" fill="#d5f3e6" text-anchor="middle">99</text>
<rect x="457.74" y="362.80" width="45.47" height="13.4" fill="#4e5c7a" stroke="#3c475f" stroke-width="0.8"/>
<text x="480.47" y="372.70" class="n" fill="#d6dcea" text-anchor="middle">131</text>
<rect x="503.21" y="362.80" width="17.35" height="13.4" fill="#777d97" stroke="#5c6175" stroke-width="0.8"/>
<text x="511.88" y="372.70" class="n" fill="#e2e4ee" text-anchor="middle">50</text>
<rect x="520.56" y="362.80" width="54.84" height="13.4" fill="#6082b0" stroke="#4a6589" stroke-width="0.8"/>
<text x="547.98" y="372.70" class="n" fill="#e0e9f6" text-anchor="middle">158</text>
<text x="71.2" y="373.30" class="c" text-anchor="end">Belgium</text>
<text x="83" y="373.20" class="p">194 mins</text>
<text x="212.5" y="372.50" class="s">8 hours 33 mins</text>
<text x="579" y="372.30" class="t">339 mins</text>
<rect x="75.60" y="378.00" width="64.90" height="13.4" fill="#a04855" stroke="#7c3842" stroke-width="0.8"/>
<rect x="140.50" y="378.00" width="14.23" height="13.4" fill="#b45a4c" stroke="#8c463b" stroke-width="0.8"/>
<rect x="154.73" y="378.00" width="173.54" height="13.4" fill="#9e9f98" stroke="#7b7c76" stroke-width="0.8"/>
<rect x="328.28" y="378.00" width="15.62" height="13.4" fill="#aba65a" stroke="#858146" stroke-width="0.8"/>
<text x="336.09" y="387.90" class="n" fill="#66622c" text-anchor="middle">45</text>
<rect x="343.90" y="378.00" width="48.94" height="13.4" fill="#e2d968" stroke="#b0a951" stroke-width="0.8"/>
<text x="368.36" y="387.90" class="n" fill="#77712e" text-anchor="middle">141</text>
<rect x="392.83" y="378.00" width="19.78" height="13.4" fill="#88768f" stroke="#6a5c6f" stroke-width="0.8"/>
<text x="402.73" y="387.90" class="n" fill="#eadcf0" text-anchor="middle">57</text>
<rect x="412.62" y="378.00" width="44.43" height="13.4" fill="#0fa271" stroke="#0b7e58" stroke-width="0.8"/>
<text x="434.83" y="387.90" class="n" fill="#d5f3e6" text-anchor="middle">128</text>
<rect x="457.04" y="378.00" width="47.55" height="13.4" fill="#4e5c7a" stroke="#3c475f" stroke-width="0.8"/>
<text x="480.82" y="387.90" class="n" fill="#d6dcea" text-anchor="middle">137</text>
<rect x="504.59" y="378.00" width="19.44" height="13.4" fill="#777d97" stroke="#5c6175" stroke-width="0.8"/>
<text x="514.31" y="387.90" class="n" fill="#e2e4ee" text-anchor="middle">56</text>
<rect x="524.03" y="378.00" width="51.37" height="13.4" fill="#6082b0" stroke="#4a6589" stroke-width="0.8"/>
<text x="549.72" y="387.90" class="n" fill="#e0e9f6" text-anchor="middle">148</text>
<text x="71.2" y="388.50" class="c" text-anchor="end">Greece</text>
<text x="83" y="388.40" class="p">187 mins</text>
<text x="213.8" y="387.70" class="s">8 hours 20 mins</text>
<text x="579" y="387.50" class="t">341 mins</text>
<rect x="75.60" y="393.20" width="61.09" height="13.4" fill="#a04855" stroke="#7c3842" stroke-width="0.8"/>
<rect x="136.69" y="393.20" width="8.68" height="13.4" fill="#b45a4c" stroke="#8c463b" stroke-width="0.8"/>
<rect x="145.36" y="393.20" width="179.09" height="13.4" fill="#9e9f98" stroke="#7b7c76" stroke-width="0.8"/>
<rect x="324.46" y="393.20" width="30.89" height="13.4" fill="#aba65a" stroke="#858146" stroke-width="0.8"/>
<text x="339.90" y="403.10" class="n" fill="#66622c" text-anchor="middle">89</text>
<rect x="355.35" y="393.20" width="48.94" height="13.4" fill="#e2d968" stroke="#b0a951" stroke-width="0.8"/>
<text x="379.82" y="403.10" class="n" fill="#77712e" text-anchor="middle">141</text>
<rect x="404.29" y="393.20" width="17.70" height="13.4" fill="#88768f" stroke="#6a5c6f" stroke-width="0.8"/>
<text x="413.14" y="403.10" class="n" fill="#eadcf0" text-anchor="middle">51</text>
<rect x="421.99" y="393.20" width="43.73" height="13.4" fill="#0fa271" stroke="#0b7e58" stroke-width="0.8"/>
<text x="443.86" y="403.10" class="n" fill="#d5f3e6" text-anchor="middle">126</text>
<rect x="465.72" y="393.20" width="44.77" height="13.4" fill="#4e5c7a" stroke="#3c475f" stroke-width="0.8"/>
<text x="488.11" y="403.10" class="n" fill="#d6dcea" text-anchor="middle">129</text>
<rect x="510.50" y="393.20" width="17.70" height="13.4" fill="#777d97" stroke="#5c6175" stroke-width="0.8"/>
<text x="519.35" y="403.10" class="n" fill="#e2e4ee" text-anchor="middle">51</text>
<rect x="528.20" y="393.20" width="47.20" height="13.4" fill="#6082b0" stroke="#4a6589" stroke-width="0.8"/>
<text x="551.80" y="403.10" class="n" fill="#e0e9f6" text-anchor="middle">136</text>
<text x="71.2" y="403.70" class="c" text-anchor="end">Spain</text>
<text x="83" y="403.60" class="p">176 mins</text>
<text x="208.8" y="402.90" class="s">8 hours 36 mins</text>
<text x="579" y="402.70" class="t">316 mins</text>
<rect x="75.60" y="408.40" width="59.00" height="13.4" fill="#a04855" stroke="#7c3842" stroke-width="0.8"/>
<rect x="134.60" y="408.40" width="11.80" height="13.4" fill="#b45a4c" stroke="#8c463b" stroke-width="0.8"/>
<rect x="146.41" y="408.40" width="178.05" height="13.4" fill="#9e9f98" stroke="#7b7c76" stroke-width="0.8"/>
<rect x="324.46" y="408.40" width="13.54" height="13.4" fill="#aba65a" stroke="#858146" stroke-width="0.8"/>
<text x="331.23" y="418.30" class="n" fill="#66622c" text-anchor="middle">39</text>
<rect x="338.00" y="408.40" width="52.41" height="13.4" fill="#e2d968" stroke="#b0a951" stroke-width="0.8"/>
<text x="364.20" y="418.30" class="n" fill="#77712e" text-anchor="middle">151</text>
<rect x="390.40" y="408.40" width="37.14" height="13.4" fill="#88768f" stroke="#6a5c6f" stroke-width="0.8"/>
<text x="408.97" y="418.30" class="n" fill="#eadcf0" text-anchor="middle">107</text>
<rect x="427.54" y="408.40" width="46.16" height="13.4" fill="#0fa271" stroke="#0b7e58" stroke-width="0.8"/>
<text x="450.62" y="418.30" class="n" fill="#d5f3e6" text-anchor="middle">133</text>
<rect x="473.70" y="408.40" width="39.57" height="13.4" fill="#4e5c7a" stroke="#3c475f" stroke-width="0.8"/>
<text x="493.49" y="418.30" class="n" fill="#d6dcea" text-anchor="middle">114</text>
<rect x="513.27" y="408.40" width="19.09" height="13.4" fill="#777d97" stroke="#5c6175" stroke-width="0.8"/>
<text x="522.82" y="418.30" class="n" fill="#e2e4ee" text-anchor="middle">55</text>
<rect x="532.36" y="408.40" width="43.04" height="13.4" fill="#6082b0" stroke="#4a6589" stroke-width="0.8"/>
<text x="553.88" y="418.30" class="n" fill="#e0e9f6" text-anchor="middle">124</text>
<text x="71.2" y="418.90" class="c" text-anchor="end">France</text>
<text x="83" y="418.80" class="p">170 mins</text>
<text x="205.9" y="418.10" class="s">8 hours 33 mins</text>
<text x="579" y="417.90" class="t">293 mins</text>
<rect x="75.60" y="423.60" width="51.72" height="13.4" fill="#a04855" stroke="#7c3842" stroke-width="0.8"/>
<rect x="127.32" y="423.60" width="9.72" height="13.4" fill="#b45a4c" stroke="#8c463b" stroke-width="0.8"/>
<rect x="137.03" y="423.60" width="178.05" height="13.4" fill="#9e9f98" stroke="#7b7c76" stroke-width="0.8"/>
<rect x="315.09" y="423.60" width="24.30" height="13.4" fill="#aba65a" stroke="#858146" stroke-width="0.8"/>
<text x="327.24" y="433.50" class="n" fill="#66622c" text-anchor="middle">70</text>
<rect x="339.38" y="423.60" width="56.23" height="13.4" fill="#e2d968" stroke="#b0a951" stroke-width="0.8"/>
<text x="367.50" y="433.50" class="n" fill="#77712e" text-anchor="middle">162</text>
<rect x="395.61" y="423.60" width="23.60" height="13.4" fill="#88768f" stroke="#6a5c6f" stroke-width="0.8"/>
<text x="407.41" y="433.50" class="n" fill="#eadcf0" text-anchor="middle">68</text>
<rect x="419.21" y="423.60" width="44.08" height="13.4" fill="#0fa271" stroke="#0b7e58" stroke-width="0.8"/>
<text x="441.25" y="433.50" class="n" fill="#d5f3e6" text-anchor="middle">127</text>
<rect x="463.29" y="423.60" width="36.10" height="13.4" fill="#4e5c7a" stroke="#3c475f" stroke-width="0.8"/>
<text x="481.34" y="433.50" class="n" fill="#d6dcea" text-anchor="middle">104</text>
<rect x="499.39" y="423.60" width="22.56" height="13.4" fill="#777d97" stroke="#5c6175" stroke-width="0.8"/>
<text x="510.67" y="433.50" class="n" fill="#e2e4ee" text-anchor="middle">65</text>
<rect x="521.95" y="423.60" width="53.45" height="13.4" fill="#6082b0" stroke="#4a6589" stroke-width="0.8"/>
<text x="548.67" y="433.50" class="n" fill="#e0e9f6" text-anchor="middle">154</text>
<text x="71.2" y="434.10" class="c" text-anchor="end">Italy</text>
<text x="83" y="434.00" class="p">149 mins</text>
<text x="196.8" y="433.30" class="s">8 hours 33 mins</text>
<text x="579" y="433.10" class="t">323 mins</text>
</svg>
</body></html>
